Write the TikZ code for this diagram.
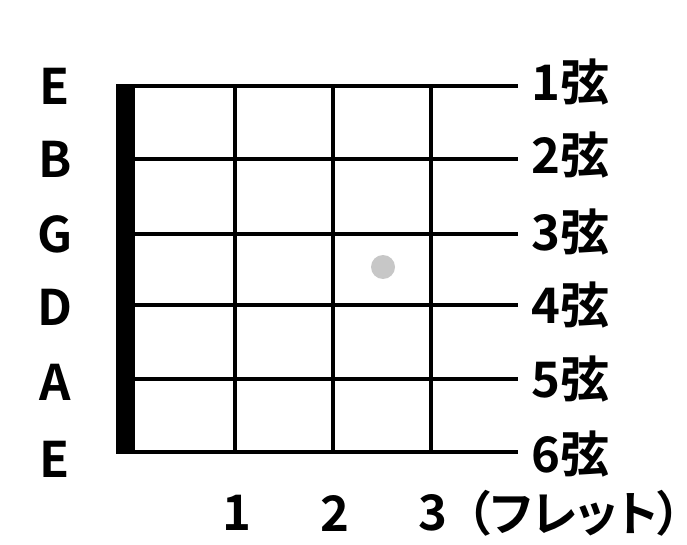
\documentclass[tikz,border=0pt]{standalone}
\usepackage{fontspec}
\setmainfont{Noto Sans CJK JP}[BoldFont={Noto Sans CJK JP Bold}]
\newfontfamily\jpprop{Noto Sans CJK JP Bold}[RawFeature=+palt]
\begin{document}
\begin{tikzpicture}[x=1pt,y=-1pt,
  lbl/.style={font=\fontsize{49}{49}\selectfont\bfseries, inner sep=0pt},
  strline/.style={line width=4pt},
  fretline/.style={line width=4pt},
  nut/.style={fill=black},
  dot/.style={circle, fill=black!22, minimum size=24pt, inner sep=0pt}]
\useasboundingbox (0,0) rectangle (687,545);
% nut
\fill[nut] (116,84) rectangle (135,454);
% strings
\foreach \y/\i in {86/1,159/2,234/3,305/4,379/5,452/6}{
  \coordinate (s\i a) at (125,\y);
  \coordinate (s\i b) at (518,\y);
  \draw[strline] (s\i a) -- (s\i b);
}
% frets
\foreach \x/\j in {235/1,333/2,431/3}{
  \coordinate (f\j a) at (\x,86);
  \coordinate (f\j b) at (\x,452);
  \draw[fretline] (f\j a) -- (f\j b);
}
% dot
\node[dot] (d) at (383,267) {};
% left labels
\node[lbl] (e1) at (55,86) {E};
\node[lbl] (b2) at (55,159) {B};
\node[lbl] (g3) at (55,234) {G};
\node[lbl] (d4) at (55,307) {D};
\node[lbl] (a5) at (55,382) {A};
\node[lbl] (e6) at (55,459) {E};
% right labels
\foreach \y/\i in {82/1,155/2,232/3,305/4,379/5,454/6}{
  \node[lbl, anchor=west] (r\i) at (531,\y) {\i 弦};
}
% fret numbers
\node[lbl] (n1) at (237,513) {1};
\node[lbl] (n2) at (335,513) {2};
\node[lbl] (n3) at (433,513) {3};
\node[lbl, font=\fontsize{48}{48}\selectfont\jpprop, anchor=west] (fr) at (466,513) {（フレット）};
\end{tikzpicture}
\end{document}
